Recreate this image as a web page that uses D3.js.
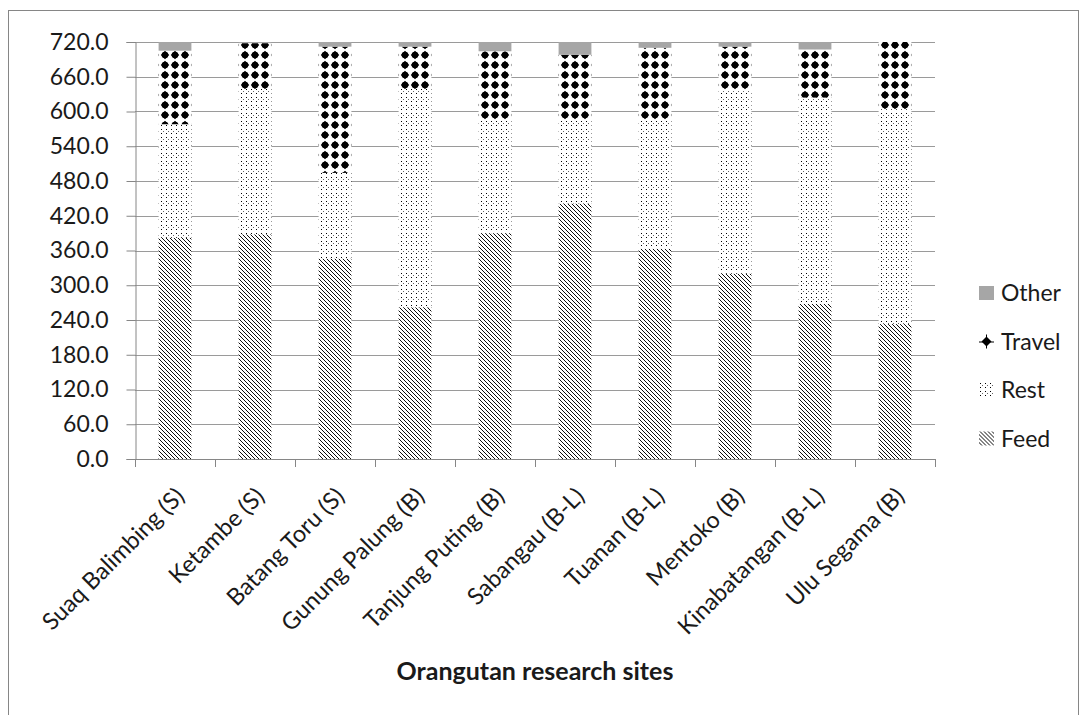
<!DOCTYPE html>
<html>
<head>
<meta charset="utf-8">
<script src="https://cdn.jsdelivr.net/npm/d3@7"></script>
<style>
  body { margin: 0; background: #fff; }
  svg { display: block; }
  text { font-family: Lato, "Open Sans", sans-serif; fill: #1a1a1a; }
</style>
</head>
<body>
<svg id="chart" width="1084" height="715"></svg>
<script>
// ---- data (minutes per day) ----
const sites = ["Suaq Balimbing (S)", "Ketambe (S)", "Batang Toru (S)", "Gunung Palung (B)",
  "Tanjung Puting (B)", "Sabangau (B-L)", "Tuanan (B-L)", "Mentoko (B)",
  "Kinabatangan (B-L)", "Ulu Segama (B)"];
const feed   = [382, 388, 346, 262, 390, 441, 363, 320, 268, 233];
const rest   = [196, 251, 148, 377, 195, 144, 222, 317, 356, 371];
const travel = [127,  79, 218,  73, 119, 113, 125,  75,  83, 116];
const other  = [ 15,   2,   8,   8,  16,  22,  10,   8,  13,   0];
const seriesNames = ["Feed", "Rest", "Travel", "Other"];
const yTicks = [0, 60, 120, 180, 240, 300, 360, 420, 480, 540, 600, 660, 720];
const xTitle = "Orangutan research sites";

const svg = d3.select("#chart");
const W = 1084, H = 715;
const m = { left: 135, right: 149, top: 42, bottom: 256 };
const x0 = m.left, x1 = W - m.right, y0 = H - m.bottom, y1 = m.top;

// outer frame
svg.append("rect").attr("x", 8.5).attr("y", 10.5).attr("width", 1070).attr("height", 720)
  .attr("fill", "none").attr("stroke", "#868686").attr("stroke-width", 1);

// ---- patterns ----
const defs = svg.append("defs");
const pFeed = defs.append("pattern").attr("id", "pFeed").attr("patternUnits", "userSpaceOnUse")
  .attr("width", 4).attr("height", 4);
pFeed.append("rect").attr("width", 4).attr("height", 4).attr("fill", "#fff");
pFeed.append("path").attr("d", "M-1,-1 L5,5 M-1,3 L1,5 M3,-1 L5,1")
  .attr("stroke", "#000").attr("stroke-width", 0.95);

const pRest = defs.append("pattern").attr("id", "pRest").attr("patternUnits", "userSpaceOnUse")
  .attr("width", 5).attr("height", 8);
pRest.append("rect").attr("width", 5).attr("height", 8).attr("fill", "#fff");
pRest.append("rect").attr("x", 1).attr("y", 1).attr("width", 1).attr("height", 1).attr("fill", "#000");
pRest.append("rect").attr("x", 1).attr("y", 5).attr("width", 1).attr("height", 1).attr("fill", "#000");
pRest.append("rect").attr("x", 3).attr("y", 3).attr("width", 1).attr("height", 1).attr("fill", "#666");

const pTravel = defs.append("pattern").attr("id", "pTravel").attr("patternUnits", "userSpaceOnUse")
  .attr("width", 10).attr("height", 10);
pTravel.append("rect").attr("width", 10).attr("height", 10).attr("fill", "#fff");
pTravel.append("path").attr("d", "M5,0.8 L9.2,5 L5,9.2 L0.8,5Z").attr("fill", "#000");
pTravel.append("circle").attr("cx", 5).attr("cy", 5).attr("r", 3.3).attr("fill", "#000");

const fills = { Feed: "url(#pFeed)", Rest: "url(#pRest)", Travel: "url(#pTravel)", Other: "#a6a6a6" };

// ---- scales ----
const x = d3.scaleBand().domain(sites).range([x0, x1]).paddingInner(0.59).paddingOuter(0.295);
const xb = d3.scaleBand().domain(sites).range([x0, x1]);
const y = d3.scaleLinear().domain([0, 720]).range([y0, y1]);

// gridlines
svg.append("g").selectAll("line").data(yTicks.slice(1)).join("line")
  .attr("x1", x0).attr("x2", x1).attr("y1", d => Math.round(y(d)) + 0.5).attr("y2", d => Math.round(y(d)) + 0.5)
  .attr("stroke", "#9a9a9a").attr("stroke-width", 1);

// stacked bars
const table = sites.map((s, i) => ({ site: s, Feed: feed[i], Rest: rest[i], Travel: travel[i], Other: other[i] }));
const stack = d3.stack().keys(seriesNames)(table);
svg.append("g").selectAll("g").data(stack).join("g")
  .attr("fill", d => fills[d.key])
  .selectAll("rect").data(d => d).join("rect")
  .attr("x", d => x(d.data.site)).attr("width", x.bandwidth())
  .attr("y", d => y(d[1])).attr("height", d => Math.max(0, y(d[0]) - y(d[1])));

// y axis
const yAxis = d3.axisLeft(y).tickValues(yTicks).tickFormat(d3.format(".1f")).tickSize(9).tickPadding(18);
const gy = svg.append("g").attr("transform", `translate(${x0 + 0.5},0)`).call(yAxis);
gy.select(".domain").attr("stroke", "#868686");
gy.selectAll(".tick line").attr("stroke", "#868686");
gy.selectAll(".tick text").attr("font-size", 23).attr("font-family", "Lato, sans-serif").attr("fill", "#1a1a1a");

// x axis (ticks at band boundaries)
svg.append("line").attr("x1", x0).attr("x2", x1).attr("y1", y0 + 0.5).attr("y2", y0 + 0.5).attr("stroke", "#868686");
svg.append("g").selectAll("line").data(sites.map(s => xb(s)).concat([x1])).join("line")
  .attr("x1", d => Math.round(d) + 0.5).attr("x2", d => Math.round(d) + 0.5)
  .attr("y1", y0).attr("y2", y0 + 8).attr("stroke", "#868686");

svg.append("g").selectAll("text").data(sites).join("text")
  .attr("transform", d => `translate(${xb(d) + xb.bandwidth() / 2 + 5},${y0 + 33}) rotate(-45)`)
  .attr("text-anchor", "end").attr("dy", "0.35em").attr("font-size", 23.5)
  .text(d => d);

svg.append("text").attr("x", (x0 + x1) / 2).attr("y", 680).attr("text-anchor", "middle")
  .attr("font-size", 25).attr("font-weight", "bold").text(xTitle);

// legend
const legendNames = seriesNames.slice().reverse();
const lg = svg.append("g").selectAll("g").data(legendNames).join("g")
  .attr("transform", (d, i) => `translate(979,${293 + i * 48.5})`);
lg.each(function (d) {
  const g = d3.select(this);
  if (d === "Other") {
    g.append("rect").attr("x", 0).attr("y", -7).attr("width", 15).attr("height", 14).attr("fill", "#a6a6a6");
  } else if (d === "Travel") {
    g.append("path").attr("d", "M7.5,-5 L12.5,0 L7.5,5 L2.5,0Z").attr("fill", "#000");
    g.append("path").attr("d", "M0,0.5 H15 M7.5,-7 V7").attr("stroke", "#000").attr("stroke-width", 1);
  } else {
    g.append("rect").attr("x", 0).attr("y", -7).attr("width", 15).attr("height", 14).attr("fill", fills[d]);
  }
  g.append("text").attr("x", 22).attr("dy", "0.35em").attr("font-size", 23).text(d);
});
</script>
</body>
</html>
